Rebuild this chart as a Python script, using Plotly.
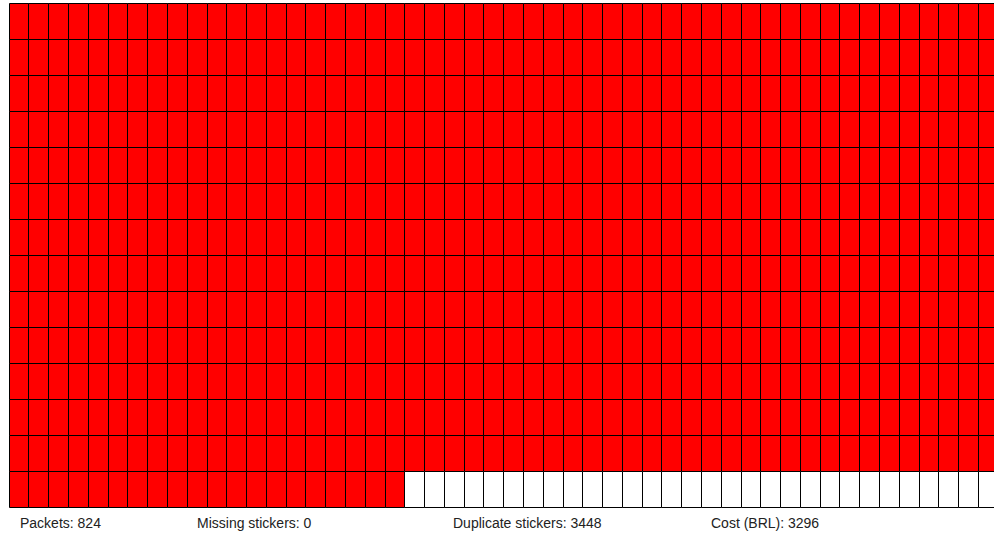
import plotly.graph_objects as go

# ---- data ----
stat_labels = ["Packets", "Missing stickers", "Duplicate stickers", "Cost (BRL)"]
stat_values = [824, 0, 3448, 3296]
album_size = 670          # stickers in the album
collected_count = 670     # stickers already collected
grid_cols = 50
grid_rows = 14
label_x_px = [18, 195, 451, 709]   # label positions (pixels)

# ---- build grid cells ----
xs, bases, colors = [], [], []
for i in range(grid_cols * grid_rows):
    r, c = divmod(i, grid_cols)
    xs.append(c + 0.5)
    bases.append(r)
    if i < collected_count:
        colors.append("#ff0000")
    else:
        colors.append("#ffffff")

fig = go.Figure(go.Bar(
    x=xs, y=[1] * len(xs), base=bases, width=1,
    marker=dict(color=colors, line=dict(color="#000000", width=1)),
    hoverinfo="skip", showlegend=False,
))

W, H = 994, 535
ml, mt, mb = 9, 3, 26
col_px = 19.78
row_px = 36.0
plot_w = W - ml
plot_h = H - mt - mb
x0 = -0.7 / col_px
y0 = -1.0 / row_px

fig.update_layout(
    width=W, height=H,
    margin=dict(l=ml, r=0, t=mt, b=mb, pad=0),
    paper_bgcolor="white", plot_bgcolor="white",
    barmode="overlay", bargap=0,
    xaxis=dict(range=[x0, x0 + plot_w / col_px], visible=False, fixedrange=True),
    yaxis=dict(range=[y0 + plot_h / row_px, y0], visible=False, fixedrange=True),
    font=dict(family="Liberation Sans, Arial, sans-serif", size=14, color="#222222"),
)

for lab, val, px in zip(stat_labels, stat_values, label_x_px):
    fig.add_annotation(
        text=f"{lab}: {val}", xref="paper", yref="paper",
        x=(px - ml) / plot_w, y=0, xanchor="left", yanchor="middle",
        yshift=-13.5, showarrow=False,
        font=dict(family="Liberation Sans, Arial, sans-serif", size=14, color="#222222"),
    )

fig.write_html(
    "out.html",
    config={"displayModeBar": False},
    post_script="document.body.style.margin='0';document.body.style.overflow='hidden';",
)
